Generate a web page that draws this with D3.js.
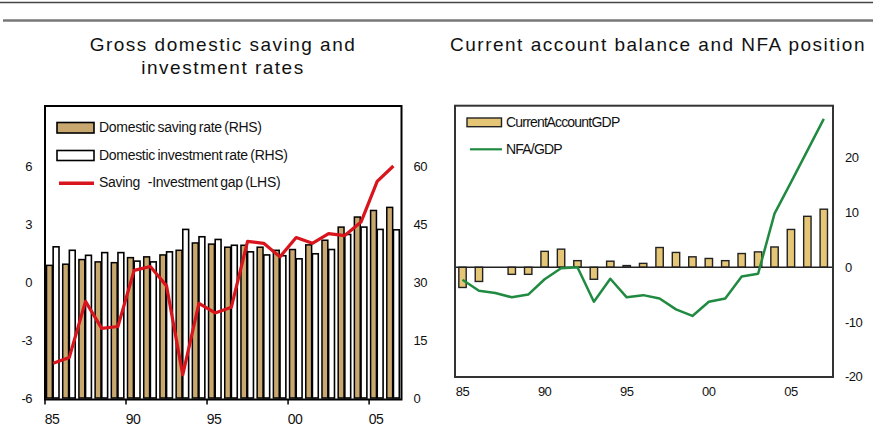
<!DOCTYPE html>
<html><head><meta charset="utf-8">
<script src="https://cdn.jsdelivr.net/npm/d3@7/dist/d3.min.js"></script>
<style>
body{margin:0;background:#fff}
svg{display:block}
text{font-family:"Liberation Sans",Arial,sans-serif;fill:#111}
</style>
</head><body>
<svg id="c" width="873" height="448"></svg>
<script>
// ---------- Left chart data ----------
const leftYears = [1985,1986,1987,1988,1989,1990,1991,1992,1993,1994,1995,1996,1997,1998,1999,2000,2001,2002,2003,2004,2005,2006];
const savingRate = [34.3,34.6,35.8,35.2,35.0,36.3,36.5,37.0,38.2,40.1,39.8,39.0,39.5,39.0,38.2,38.4,39.6,40.8,44.2,46.8,48.5,49.3];
const investmentRate = [39.1,38.2,36.9,37.6,37.6,35.4,35.2,37.8,43.6,41.7,41.0,39.5,37.8,37.0,36.8,36.0,37.3,38.4,42.3,44.2,43.6,43.5];
const savingInvestmentGap = [-4.2,-3.9,-1.0,-2.4,-2.3,0.6,0.8,-0.2,-4.8,-1.1,-1.6,-1.3,2.1,2.0,1.3,2.3,2.0,2.5,2.4,3.1,5.2,6.0];
const lhsTicks = [-6,-3,0,3,6];
const rhsTicks = [0,15,30,45,60];
const xTickYears = [1985,1990,1995,2000,2005];
const xTickLabels = ["85","90","95","00","05"];
const leftLegend = ["Domestic saving rate (RHS)","Domestic investment rate (RHS)","Saving   -Investment gap (LHS)"];

// ---------- Right chart data ----------
const rightYears = [1985,1986,1987,1988,1989,1990,1991,1992,1993,1994,1995,1996,1997,1998,1999,2000,2001,2002,2003,2004,2005,2006,2007];
const currentAccountGDP = [-3.7,-2.6,0,-1.3,-1.3,2.9,3.3,1.2,-2.2,1.1,0.3,0.7,3.6,2.7,1.9,1.6,1.2,2.5,2.8,3.7,6.9,9.3,10.6];
const nfaGDP = [-2.3,-4.3,-4.7,-5.5,-5.0,-2.2,-0.2,0,-6.3,-2.1,-5.5,-5.1,-5.7,-7.7,-8.9,-6.3,-5.7,-1.7,-1.2,9.8,15.5,21.3,27.1];
const rightTicks = [-20,-10,0,10,20];
const rightLegend = ["Current Account GDP","NFA/GDP"];

const titles = {left:["Gross domestic saving and","investment rates"], right:"Current account balance and NFA position"};

const svg = d3.select("#c");
const fmt = d => String(d);

// header rules
svg.append("line").attr("x1",0).attr("x2",873).attr("y1",2.5).attr("y2",2.5).attr("stroke","#444").attr("stroke-width",1.5);
svg.append("line").attr("x1",3).attr("x2",873).attr("y1",20.5).attr("y2",20.5).attr("stroke","#777").attr("stroke-width",2.5);

// titles
const tStyle = s => s.attr("font-size",19).attr("letter-spacing","1.5px").attr("text-anchor","middle");
svg.append("text").attr("x",223).attr("y",51).text(titles.left[0]).call(tStyle);
svg.append("text").attr("x",223).attr("y",74).text(titles.left[1]).call(tStyle);
svg.append("text").attr("x",658).attr("y",51).text(titles.right).call(tStyle);

// ================= LEFT CHART =================
const L = {x0:45, x1:401.5, top:106, bottom:399.5};
const x = d3.scaleBand().domain(leftYears).range([L.x0, L.x1]);
const sub = d3.scaleBand().domain(["s","i"]).range([1.5,14]).paddingInner(0.12);
const yL = d3.scaleLinear().domain([-6,9]).range([398,108]);
const yR = d3.scaleLinear().domain([0,75]).range([398,108]);
const tan = "#c9a86f";

const gl = svg.append("g");
gl.selectAll("rect.s").data(leftYears).join("rect")
  .attr("x",d=>x(d)+sub("s")).attr("width",sub.bandwidth())
  .attr("y",(d,i)=>yR(savingRate[i])).attr("height",(d,i)=>yR(0)-yR(savingRate[i]))
  .attr("fill",tan).attr("stroke","#000").attr("stroke-width",1.5);
gl.selectAll("rect.i").data(leftYears).join("rect")
  .attr("x",d=>x(d)+sub("i")).attr("width",sub.bandwidth())
  .attr("y",(d,i)=>yR(investmentRate[i])).attr("height",(d,i)=>yR(0)-yR(investmentRate[i]))
  .attr("fill","#fff").attr("stroke","#000").attr("stroke-width",1.6);

gl.append("path").datum(leftYears)
  .attr("d", d3.line().x(d=>x(d)+x.bandwidth()/2).y((d,i)=>yL(savingInvestmentGap[i])))
  .attr("fill","none").attr("stroke","#d8141c").attr("stroke-width",3.2).attr("stroke-linejoin","round");

gl.append("rect").attr("x",L.x0).attr("y",L.top).attr("width",L.x1-L.x0).attr("height",L.bottom-L.top)
  .attr("fill","none").attr("stroke","#000").attr("stroke-width",2);

// axes
const axL = gl.append("g").attr("transform",`translate(${L.x0},0)`)
  .call(d3.axisLeft(yL).tickValues(lhsTicks).tickSize(0).tickPadding(13).tickFormat(fmt));
const axR = gl.append("g").attr("transform",`translate(${L.x1},0)`)
  .call(d3.axisRight(yR).tickValues(rhsTicks).tickSize(0).tickPadding(12).tickFormat(fmt));
const axB = gl.append("g").attr("transform",`translate(${-x.bandwidth()/2},${L.bottom})`)
  .call(d3.axisBottom(x).tickValues(xTickYears).tickSizeInner(5).tickSizeOuter(0).tickPadding(10)
  .tickFormat((d)=>xTickLabels[xTickYears.indexOf(d)]));
[axL,axR,axB].forEach(a=>{a.select(".domain").remove(); a.selectAll("text").attr("font-size",13).attr("fill","#111").attr("font-family","Liberation Sans, Arial, sans-serif").attr("letter-spacing","-0.5px");});
axB.selectAll("text").attr("font-size",14).attr("x",7);
axB.selectAll("line").attr("stroke","#000").attr("stroke-width",1.5);

// legend left
const lg = gl.append("g");
lg.append("rect").attr("x",57).attr("y",122.5).attr("width",37).attr("height",10.5).attr("fill",tan).attr("stroke","#000").attr("stroke-width",1.6);
lg.append("rect").attr("x",57).attr("y",150.5).attr("width",37).attr("height",10).attr("fill","#fff").attr("stroke","#000").attr("stroke-width",1.6);
lg.append("line").attr("x1",59).attr("x2",94).attr("y1",183.3).attr("y2",183.3).attr("stroke","#d8141c").attr("stroke-width",3.5);
[127.5,155.5,182].forEach((yy,i)=>{
  lg.append("text").attr("x",99).attr("y",yy).attr("dy","0.35em").attr("font-size",14)
    .attr("letter-spacing","-0.3px").attr("word-spacing","-1px").style("white-space","pre").text(leftLegend[i]);
});

// ================= RIGHT CHART =================
const R = {x0:455, x1:833, top:105.7, bottom:377};
const xr = d3.scaleBand().domain(rightYears).range([454.3, 832]).paddingInner(0.55).paddingOuter(0.275);
const yr = d3.scaleLinear().domain([-20,30]).range([376.7,103]);
const tan2 = "#e5c677";
const gr = svg.append("g");
gr.selectAll("rect.ca").data(rightYears).join("rect")
  .attr("x",d=>xr(d)).attr("width",xr.bandwidth())
  .attr("y",(d,i)=>yr(Math.max(0,currentAccountGDP[i])))
  .attr("height",(d,i)=>Math.abs(yr(currentAccountGDP[i])-yr(0)))
  .attr("fill",tan2).attr("stroke","#222").attr("stroke-width",1.4);
gr.append("line").attr("x1",R.x0).attr("x2",R.x1).attr("y1",yr(0)).attr("y2",yr(0)).attr("stroke","#222").attr("stroke-width",1.5);
gr.append("path").datum(rightYears)
  .attr("d", d3.line().x(d=>xr(d)+xr.bandwidth()/2).y((d,i)=>yr(nfaGDP[i])))
  .attr("fill","none").attr("stroke","#1f8a40").attr("stroke-width",2.5).attr("stroke-linejoin","round");
gr.append("rect").attr("x",R.x0).attr("y",R.top).attr("width",R.x1-R.x0).attr("height",R.bottom-R.top)
  .attr("fill","none").attr("stroke","#333").attr("stroke-width",2);

const axRR = gr.append("g").attr("transform",`translate(${R.x1},0)`)
  .call(d3.axisRight(yr).tickValues(rightTicks).tickSize(0).tickPadding(12).tickFormat(fmt));
const axRB = gr.append("g").attr("transform",`translate(0,${R.bottom})`)
  .call(d3.axisBottom(xr).tickValues(xTickYears).tickSize(0).tickPadding(10)
  .tickFormat((d)=>xTickLabels[xTickYears.indexOf(d)]));
[axRR,axRB].forEach(a=>{a.select(".domain").remove(); a.selectAll("text").attr("font-size",13).attr("fill","#111").attr("font-family","Liberation Sans, Arial, sans-serif").attr("letter-spacing","-0.5px");});

// legend right
gr.append("rect").attr("x",467).attr("y",118).attr("width",34.5).attr("height",8.7).attr("fill",tan2).attr("stroke","#222").attr("stroke-width",1.4);
gr.append("line").attr("x1",470).attr("x2",502).attr("y1",149.3).attr("y2",149.3).attr("stroke","#1f8a40").attr("stroke-width",2.2);
[122.5,149.5].forEach((yy,i)=>{
  gr.append("text").attr("x",506).attr("y",yy).attr("dy","0.35em").attr("font-size",14)
    .attr("letter-spacing","-0.8px").attr("word-spacing","-3px").text(rightLegend[i]);
});
</script>
</body></html>
